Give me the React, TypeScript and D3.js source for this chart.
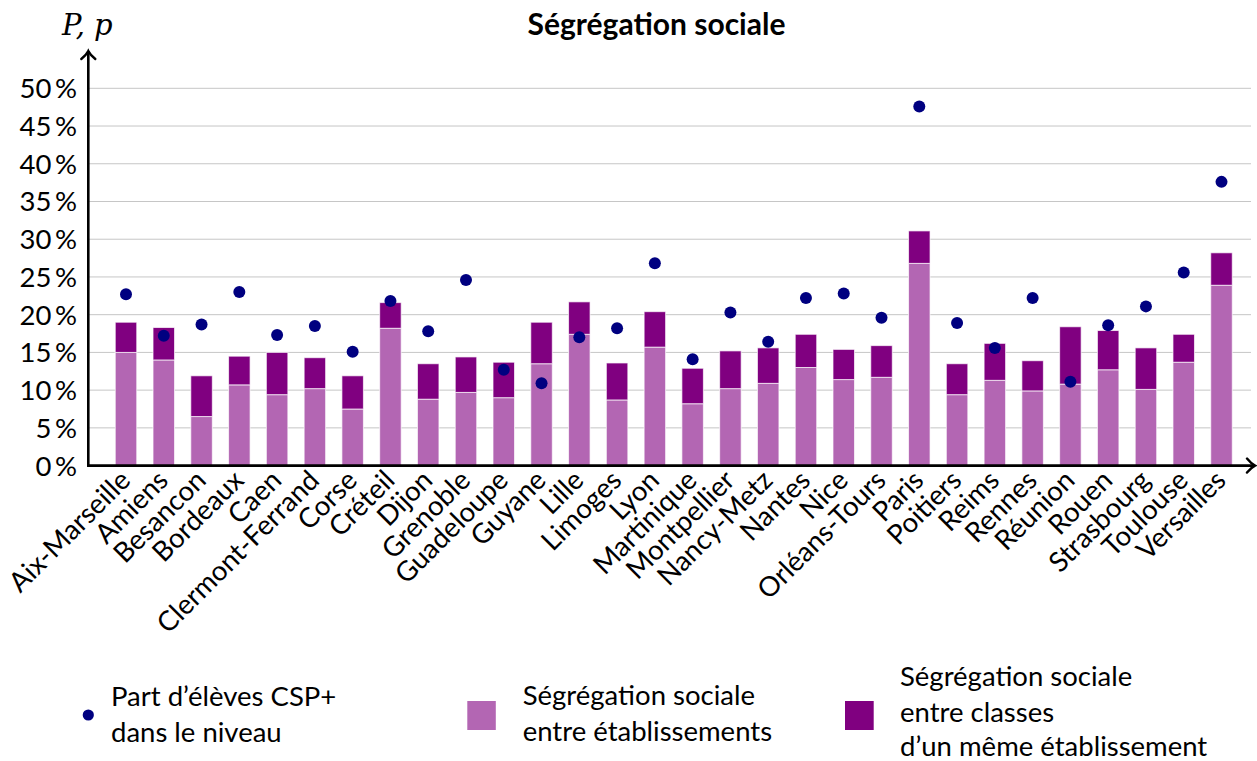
import React from "react";
import * as d3 from "d3";

const categories = [
  "Aix-Marseille", "Amiens", "Besancon", "Bordeaux", "Caen", "Clermont-Ferrand",
  "Corse", "Créteil", "Dijon", "Grenoble", "Guadeloupe", "Guyane", "Lille",
  "Limoges", "Lyon", "Martinique", "Montpellier", "Nancy-Metz", "Nantes", "Nice",
  "Orléans-Tours", "Paris", "Poitiers", "Reims", "Rennes", "Réunion", "Rouen",
  "Strasbourg", "Toulouse", "Versailles",
];

// Ségrégation sociale entre établissements (%)
const segEtablissements = [
  15.0, 14.0, 6.5, 10.7, 9.4, 10.2, 7.5, 18.2, 8.8, 9.7, 9.0, 13.5, 17.4, 8.7, 15.7,
  8.2, 10.2, 10.9, 13.0, 11.4, 11.7, 26.8, 9.4, 11.3, 9.9, 10.8, 12.7, 10.1, 13.7, 23.9,
];

// Ségrégation sociale entre classes d'un même établissement (%)
const segClasses = [
  4.0, 4.3, 5.4, 3.8, 5.6, 4.1, 4.4, 3.4, 4.7, 4.7, 4.7, 5.5, 4.3, 4.9, 4.7,
  4.7, 5.0, 4.7, 4.4, 4.0, 4.2, 4.3, 4.1, 4.9, 4.0, 7.6, 5.2, 5.5, 3.7, 4.3,
];

// Part d'élèves CSP+ dans le niveau (%)
const partCSP = [
  22.7, 17.2, 18.7, 23.0, 17.3, 18.5, 15.1, 21.8, 17.8, 24.6, 12.7, 10.9, 17.0, 18.2, 26.8,
  14.1, 20.3, 16.4, 22.2, 22.8, 19.6, 47.6, 18.9, 15.6, 22.2, 11.1, 18.6, 21.1, 25.6, 37.6,
];

const yTicks = [0, 5, 10, 15, 20, 25, 30, 35, 40, 45, 50];

const LIGHT = "#b366b3";
const DARK = "#800080";
const NAVY = "#000080";
const FONT = "Lato, 'DejaVu Sans', sans-serif";
const FS = 27.5;

export default function App() {
  const W = 1257;
  const H = 761;
  const axisX = 88.3;
  const axisY = 465.6;

  const x = d3.scalePoint<string>().domain(categories).range([126, 1221.5]);
  const y = d3.scaleLinear().domain([0, 50]).range([axisY, 88.3]);
  const barW = 21.5;

  const stack = d3
    .stack<number>()
    .keys(["a", "b"])
    .value((i: number, key: string) => (key === "a" ? segEtablissements[i] : segClasses[i]));
  const series = stack(categories.map((_, i) => i));

  return (
    <svg
      width={W}
      height={H}
      style={{ position: "absolute", left: 0, top: 0, display: "block", background: "#fff" }}
      fontFamily={FONT}
    >
      {/* grid */}
      {yTicks.filter((t) => t > 0).map((t) => (
        <line key={t} x1={axisX} x2={1251} y1={y(t)} y2={y(t)} stroke="#c6c6c6" strokeWidth={1} />
      ))}

      {/* bars */}
      {series.map((s, si) =>
        s.map((d, i) => (
          <rect
            key={`${si}-${i}`}
            x={(x(categories[i]) as number) - barW / 2}
            width={barW}
            y={y(d[1])}
            height={y(d[0]) - y(d[1])}
            fill={si === 0 ? LIGHT : DARK}
            stroke="#fff"
            strokeOpacity={0.7}
            strokeWidth={1}
          />
        ))
      )}

      {/* dots */}
      {partCSP.map((v, i) => (
        <circle key={i} cx={x(categories[i]) as number} cy={y(v)} r={6} fill={NAVY} />
      ))}

      {/* axes */}
      <line x1={axisX} x2={axisX} y1={axisY + 1.2} y2={51} stroke="#000" strokeWidth={2.6} />
      <path
        d={`M${axisX - 7},${59} Q${axisX - 2},${55} ${axisX},${51} Q${axisX + 2},${55} ${axisX + 7},${59}`}
        fill="none"
        stroke="#000"
        strokeWidth={2.4}
        strokeLinecap="round"
      />
      <line x1={axisX - 1.2} x2={1255} y1={axisY} y2={axisY} stroke="#000" strokeWidth={2.6} />
      <path
        d={`M${1247},${axisY - 7} Q${1251},${axisY - 2} ${1255},${axisY} Q${1251},${axisY + 2} ${1247},${axisY + 7}`}
        fill="none"
        stroke="#000"
        strokeWidth={2.4}
        strokeLinecap="round"
      />

      {/* y tick labels */}
      {yTicks.map((t) => (
        <text key={t} x={77} y={y(t)} dy="0.36em" textAnchor="end" fontSize={FS} fill="#000">
          {`${t}\u2009%`}
        </text>
      ))}

      {/* x tick labels */}
      {categories.map((c) => (
        <text
          key={c}
          transform={`translate(${(x(c) as number) + 6},${482}) rotate(-45)`}
          textAnchor="end"
          fontSize={FS}
          fill="#000"
        >
          {c}
        </text>
      ))}

      {/* title and axis label */}
      <text x={656.5} y={35} textAnchor="middle" fontSize={30} fontWeight="bold" fill="#000">
        Ségrégation sociale
      </text>
      <text x={62} y={35} fontSize={29} fontStyle="italic" fontFamily="'DejaVu Serif', serif" fill="#000">
        P, p
      </text>

      {/* legend */}
      <circle cx={88.3} cy={715} r={5.6} fill={NAVY} />
      <text fontSize={FS} fill="#000">
        <tspan x={111} y={706}>Part d’élèves CSP+</tspan>
        <tspan x={111} y={742}>dans le niveau</tspan>
      </text>

      <rect x={467.3} y={701} width={28.5} height={29} fill={LIGHT} />
      <text fontSize={FS} fill="#000">
        <tspan x={522.7} y={704.5}>Ségrégation sociale</tspan>
        <tspan x={522.7} y={740.5}>entre établissements</tspan>
      </text>

      <rect x={845} y={701} width={28.7} height={29} fill={DARK} />
      <text fontSize={FS} fill="#000">
        <tspan x={900} y={686}>Ségrégation sociale</tspan>
        <tspan x={900} y={722}>entre classes</tspan>
        <tspan x={900} y={756}>d’un même établissement</tspan>
      </text>
    </svg>
  );
}
